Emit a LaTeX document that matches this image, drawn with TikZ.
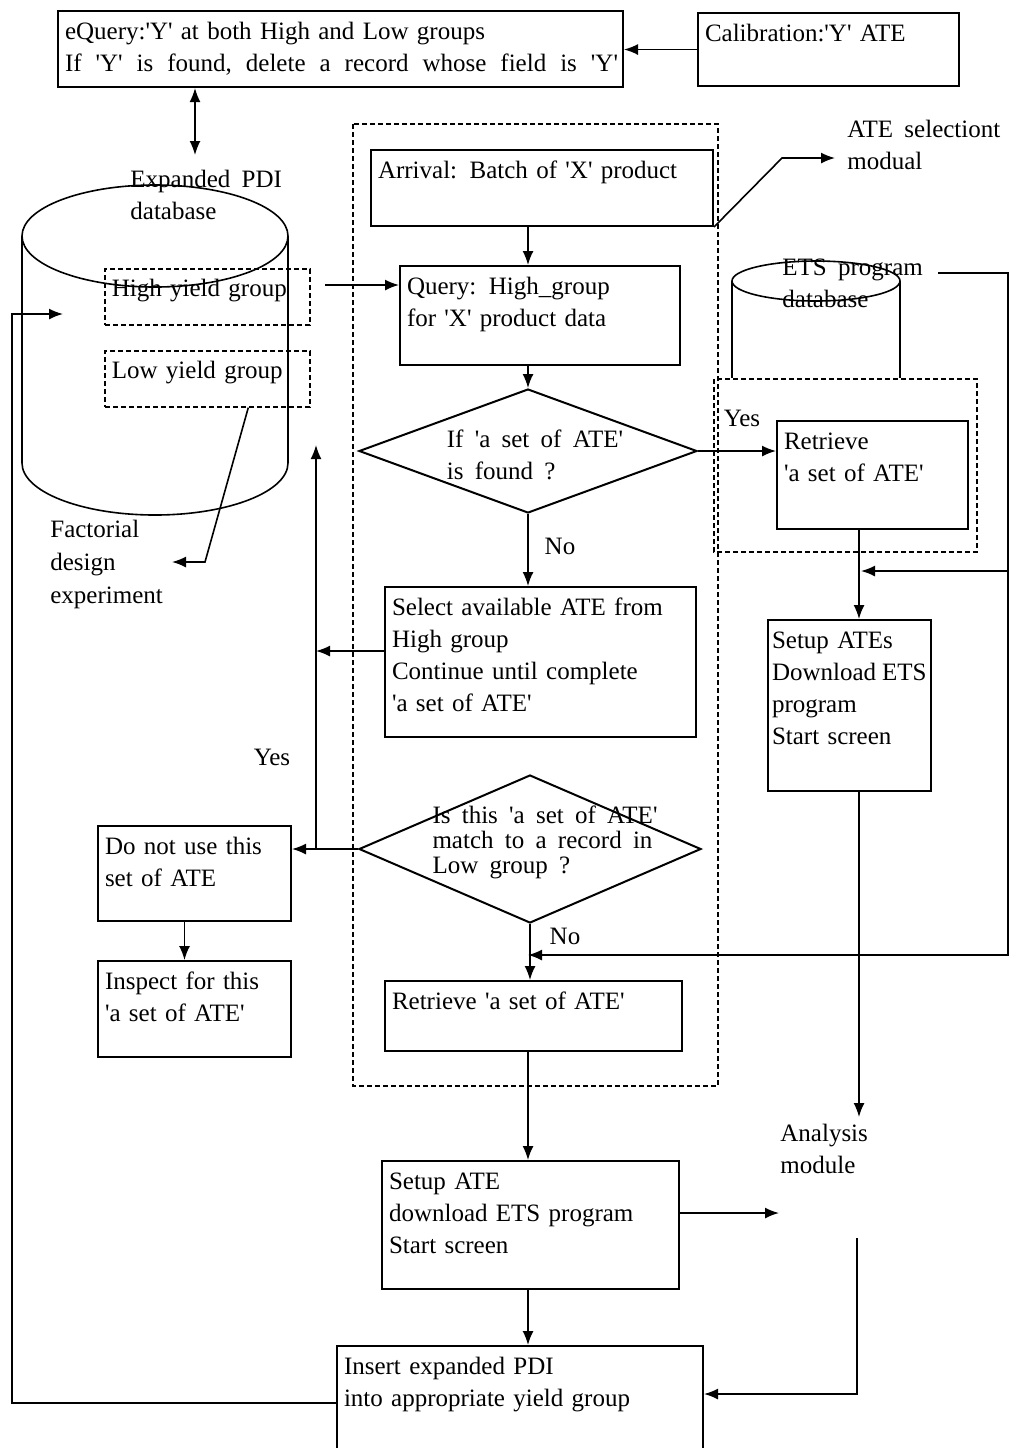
\documentclass[tikz,border=0pt]{standalone}
\usepackage{fontspec}
\setmainfont{Liberation Serif}[WordSpace=1.8]
\usetikzlibrary{shapes.geometric, arrows.meta, calc}

\newcommand{\sq}{\textquotesingle}
\newcommand{\wsp}{\hspace{7pt}}

\tikzset{
	procbox/.style={draw, line width=1pt, anchor=north west, align=left,
		inner xsep=3.5pt, inner ysep=5pt, text height=9pt},
	grpbox/.style={procbox, line width=0.8pt, dash pattern=on 2.5pt off 1.5pt},
	decision/.style={draw, diamond, line width=1pt, inner sep=0pt},
	lbl/.style={anchor=north west, align=left, inner sep=0pt},
	tag/.style={inner sep=0pt},
	conn/.style={line width=0.8pt},
	arr/.style={->, line width=0.8pt},
}

\begin{document}
\begin{tikzpicture}[x=0.5pt, y=-0.5pt, >={Latex[length=7pt,width=5.5pt]},
		font=\fontsize{12.5}{16}\selectfont]
			\useasboundingbox (0,0) rectangle (1010,1448);
			
			% Expanded PDI database (cylinder)
			\draw[conn] (155,236) ellipse (133 and 51);
			\draw[conn] (22,236) -- (22,463) arc[start angle=180, end angle=0, x radius=133, y radius=52] -- (288,236);
			
			% ETS program database (cylinder, cut by the dashed box)
			\draw[conn] (816,281) ellipse (84 and 20);
			\draw[conn] (732,281) -- (732,378);
			\draw[conn] (900,281) -- (900,378);
			
			% Dashed frames
			\draw[line width=0.8pt, dash pattern=on 2.5pt off 1.5pt] (353,124) rectangle (718,1086);
			\draw[line width=0.8pt, dash pattern=on 2.5pt off 1.5pt] (714,379) rectangle (977,552);
			
			% Boxes
			\node[procbox, text width=275.5pt, text depth=19pt] (equery) at (57,10)
				{eQuery:\sq Y\sq{} at both High and Low groups\\
				\mbox{If\wsp\sq Y\sq\wsp is\wsp found,\wsp delete\wsp a\wsp record\wsp whose\wsp field\wsp is\wsp\sq Y\sq}};
			\node[procbox, text width=123.5pt, text depth=17.5pt] (calib) at (697,12) {Calibration:\sq Y\sq{} ATE};
			\node[procbox, text width=164pt, text depth=19pt] (arrival) at (370,149) {Arrival: Batch of \sq X\sq{} product};
			\node[procbox, text width=133pt, text depth=30.5pt] (query) at (399,265) {Query: High\_group\\for \sq X\sq{} product data};
			\node[procbox, text width=148.5pt, text depth=56pt] (select) at (384,586)
				{Select available ATE from\\High group\\Continue until complete\\\sq a set of ATE\sq};
			\node[procbox, text width=88.5pt, text depth=35pt] (retr1) at (776,420) {Retrieve\\\sq a set of ATE\sq};
			\node[procbox, inner xsep=2pt, text width=77.5pt, text depth=66.5pt] (sates) at (767,619)
				{Setup ATEs\\\mbox{Download\hspace{3pt}ETS}\\program\\Start screen};
			\node[procbox, text width=89.5pt, text depth=28.5pt] (donot) at (97,825) {Do not use this\\set of ATE};
			\node[procbox, text width=89.5pt, text depth=29pt] (inspect) at (97,960) {Inspect for this\\\sq a set of ATE\sq};
			\node[procbox, text width=141.5pt, text depth=16pt] (retr2) at (384,980) {Retrieve \sq a set of ATE\sq};
			\node[procbox, text width=141.5pt, text depth=45pt] (setup) at (381,1160)
				{Setup ATE\\download ETS program\\Start screen};
			\node[procbox, text width=176pt, text depth=35pt] (insert) at (336,1345)
				{Insert expanded PDI\\into appropriate yield group};
			
			% Yield groups
			\node[grpbox, text width=95.5pt, text depth=9pt] (highgrp) at (104,268) {High yield group};
			\node[grpbox, text width=95.5pt, text depth=9pt] (lowgrp) at (104,350) {Low yield group};
			
			% Decisions
			\node[decision, minimum width=169pt, minimum height=62pt,
				label={[align=left, xshift=3.5pt, yshift=-2pt]center:{If \sq a set of ATE\sq\\is found ?}}] (dec1) at (528,451) {};
			\node[decision, minimum width=171pt, minimum height=74pt,
				label={[align=left, xshift=7.5pt, yshift=3.5pt, font=\fontsize{12.5}{12.5}\selectfont]center:{Is this \sq a set of ATE\sq\\match to a record in\\Low group ?}}] (dec2) at (530,849) {};
			
			% Free texts
			\node[lbl] (pditxt) at (130,170) {Expanded PDI\\database};
			\node[lbl] (etstxt) at (782,259) {ETS program\\database};
			\node[lbl] (seltxt) at (847,120) {ATE selectiont\\modual};
			\node[lbl] (anatxt) at (780,1124) {Analysis\\module};
			\node[lbl, font=\fontsize{12.5}{16.5}\selectfont] (factxt) at (50,520) {Factorial\\design\\experiment};
			\node[tag] (yes1) at (742,418) {Yes};
			\node[tag] (yes2) at (272,757) {Yes};
			\node[tag] (no1) at (560,546) {No};
			\node[tag] (no2) at (565,936) {No};
			
			% Helper points
			\coordinate (spine) at (528,0);
			\coordinate (yescol) at (316,0);
			\coordinate (rcol) at (859,0);
			\coordinate (rail) at (1008,0);
			\coordinate (dbarr) at (195,155);
			\coordinate (hgout) at (325,285);
			\coordinate (selbend) at (782,158);
			\coordinate (selin) at (835,158);
			\coordinate (facbend) at (205,562);
			\coordinate (facin) at (172,562);
			\coordinate (loopcol) at (12,314);
			\coordinate (dbenter) at (63,314);
			\coordinate (etsout) at (938,273);
			\coordinate (nojoin) at (528,955);
			\coordinate (rjoin) at (861,571);
			\coordinate (anaout) at (857,1238);
			
			% Connectors
			\draw[arr] (calib.west) -- (calib.west -| equery.east);
			\draw[<->, conn] (equery.south -| dbarr) -- (dbarr);
			\draw[arr] (hgout) -- (hgout -| query.west);
			\draw[arr] (arrival.south -| spine) -- (query.north -| spine);
			\draw[arr] (arrival.south east) -- (selbend) -- (selin);
			\draw[arr] (query.south -| spine) -- (dec1.north);
			\draw[arr] (dec1.south) -- (dec1.south |- select.north);
			\draw[arr] (dec1.east) -- (dec1.east -| retr1.west);
			\draw[arr] ([yshift=5.5pt]select.west) -- ++(-68,0);
			\draw[arr] (dec2.west) -- (dec2.west -| donot.east);
			\draw[arr] (dec2.west -| yescol) -- ++(0,-404);
			\draw[arr] ([xshift=-5pt]donot.south) -- ([xshift=-5pt]inspect.north);
			\draw[arr] (dec2.south) -- (dec2.south |- retr2.north);
			\draw[arr] (retr2.south -| spine) -- (setup.north -| spine);
			\draw[arr] (setup.south -| spine) -- (insert.north -| spine);
			\draw[arr] ([yshift=6pt]setup.east) -- ++(99,0);
			\draw[arr] (anaout) |- ([yshift=3pt]insert.east);
			\draw[arr] ([yshift=-1.5pt]insert.west) -| (loopcol) -- (dbenter);
			\draw[arr] ($(lowgrp.south)+(41,0)$) -- (facbend) -- (facin);
			\draw[arr] (etsout) -| (rail |- nojoin) -- (nojoin);
			\draw[arr] (rail |- rjoin) -- (rjoin);
			\draw[arr] (retr1.south -| rcol) -- (sates.north -| rcol);
			\draw[arr] (sates.south -| rcol) -- ++(0,325);
			
		\end{tikzpicture}
\end{document}
